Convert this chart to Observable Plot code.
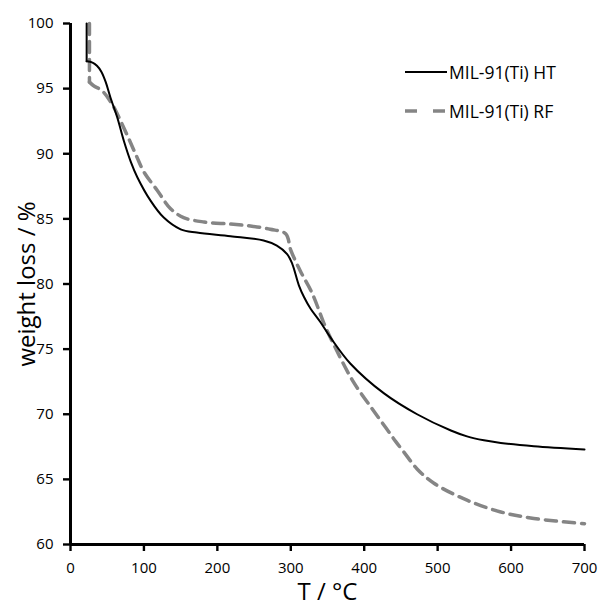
<!DOCTYPE html>
<html><head><meta charset="utf-8">
<script src="https://cdn.jsdelivr.net/npm/d3@7"></script>
<script src="https://cdn.jsdelivr.net/npm/@observablehq/plot@0.6"></script>
<style>
body{margin:0;background:#fff;}
#wrap{position:relative;width:598px;height:608px;font-family:"Open Sans",sans-serif;color:#000;background:#fff;}
#wrap > svg{font-family:"Open Sans",sans-serif;font-size:15px;}
#legend{position:absolute;left:405px;top:52.5px;font-size:17.5px;color:#000;}
#legend div{display:flex;align-items:center;height:39px;white-space:nowrap;}
#legend svg{margin-right:2px;}
</style></head>
<body><div id="wrap"><div id="legend"></div></div>
<script>
const seriesNames = ["MIL-91(Ti) HT", "MIL-91(Ti) RF"];
const htT = [22,22,30,36,42,48,54.5,63.6,72.6,82,91,109,127,150,172,218,263,281,295,302,311,318,327,340,354,381,427,472,518,540,563,586,631,700];
const htW = [100,97.1,97.0,96.75,96.3,95.5,94.3,92.8,91.0,89.4,88.2,86.4,85.1,84.2,83.95,83.67,83.34,82.95,82.3,81.55,79.9,79.0,78.1,77.1,75.9,73.9,71.6,70.0,68.75,68.3,68.0,67.8,67.55,67.3];
const rfT = [25.8,25.8,32,38.6,45.4,56.7,68,79.4,90,100,118,136,154,182,218,245,272,293,300,313,329,345,352,359,384,411,429,443,454,472,495,540,586,631,700];
const rfW = [100,95.5,95.2,95.0,94.7,93.8,92.55,91.15,89.8,88.6,87.2,85.8,85.1,84.76,84.6,84.45,84.2,83.86,82.6,81.0,79.3,77.0,76.1,75.3,72.6,70.4,69.0,67.9,67.1,65.8,64.7,63.4,62.5,62.0,61.6];
const xTicks = [0,100,200,300,400,500,600,700];
const yTicks = [60,65,70,75,80,85,90,95,100];

const ht = htT.map((t,i)=>({t, w: htW[i]}));
const rf = rfT.map((t,i)=>({t, w: rfW[i]}));
const rfStyle = {stroke: "#858585", strokeWidth: 3.5, strokeDasharray: "11,7"};
const htStyle = {stroke: "#000", strokeWidth: 2};

const plot = Plot.plot({
  width: 598, height: 608,
  marginLeft: 70, marginRight: 14, marginTop: 23, marginBottom: 64,
  x: {domain: [0,700]},
  y: {domain: [60,100]},
  marks: [
    Plot.line(rf.slice(0,2), {x: "t", y: "w", ...rfStyle}),
    Plot.line(rf.slice(1), {x: "t", y: "w", ...rfStyle, curve: "catmull-rom"}),
    Plot.line(ht.slice(0,2), {x: "t", y: "w", ...htStyle}),
    Plot.line(ht.slice(1), {x: "t", y: "w", ...htStyle, curve: "catmull-rom"}),
    Plot.axisX({ticks: [], label: "T / °C", labelAnchor: "center", labelArrow: "none", labelOffset: 55, fontSize: 24}),
    Plot.axisY({ticks: [], label: "weight loss / %", labelAnchor: "center", labelArrow: "none", labelOffset: 53, fontSize: 24}),
    Plot.axisX({ticks: xTicks, tickSize: 7, tickPadding: 11, strokeWidth: 2.4, stroke: "#000", strokeOpacity: 1, label: null, fill: "#000"}),
    Plot.axisY({ticks: yTicks, tickSize: 7, tickPadding: 10, strokeWidth: 2.4, stroke: "#000", strokeOpacity: 1, label: null, fill: "#000"}),
    Plot.ruleX([0], {stroke: "#000", strokeWidth: 3, strokeOpacity: 1}),
    Plot.ruleY([60], {stroke: "#000", strokeWidth: 3, strokeOpacity: 1})
  ]
});
document.getElementById("wrap").prepend(plot);

const leg = document.getElementById("legend");
seriesNames.forEach((n,i)=>{
  const d = document.createElement("div");
  const sw = i===0
    ? '<svg width="42" height="10"><line x1="0" y1="5" x2="42" y2="5" stroke="#000" stroke-width="2"/></svg>'
    : '<svg width="42" height="10"><line x1="0" y1="5" x2="42" y2="5" stroke="#858585" stroke-width="3.5" stroke-dasharray="12,16"/></svg>';
  d.innerHTML = sw + '<span>' + n + '</span>';
  leg.appendChild(d);
});
</script></body></html>
